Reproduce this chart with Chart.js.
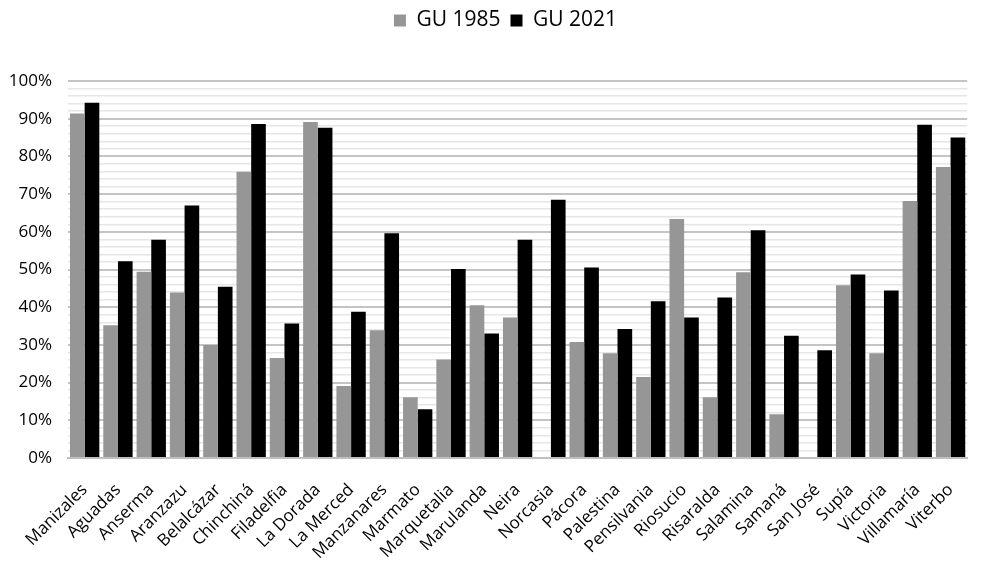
<!DOCTYPE html>
<html>
<head>
<meta charset="utf-8">
<script src="https://cdn.jsdelivr.net/npm/chart.js@4"></script>
<style>
html,body{margin:0;padding:0;background:#fff;}
#wrap{width:987px;height:572px;}
</style>
</head>
<body>
<div id="wrap"><canvas id="c" width="987" height="572"></canvas></div>
<script>
const categories = ["Manizales","Aguadas","Anserma","Aranzazu","Belalcázar","Chinchiná","Filadelfia","La Dorada","La Merced","Manzanares","Marmato","Marquetalia","Marulanda","Neira","Norcasia","Pácora","Palestina","Pensilvania","Riosucio","Risaralda","Salamina","Samaná","San José","Supía","Victoria","Villamaría","Viterbo"];
const gu1985 = [91.4,35.2,49.4,43.9,30.0,75.9,26.5,89.1,19.1,33.9,16.1,26.1,40.5,37.3,0,30.8,27.8,21.5,63.4,16.1,49.3,11.6,0,45.8,27.8,68.2,77.2];
const gu2021 = [94.2,52.2,57.9,67.0,45.4,88.6,35.7,87.6,38.8,59.6,12.9,50.1,33.0,57.9,68.5,50.5,34.2,41.6,37.3,42.6,60.4,32.4,28.6,48.7,44.4,88.4,85.0];
const seriesNames = ["GU 1985","GU 2021"];

const FONT = "'Open Sans', 'Noto Sans', sans-serif";
const legendMargin = {
  id: 'legendMargin',
  beforeInit(chart) {
    const lg = chart.legend;
    const origFit = lg.fit;
    lg.fit = function () {
      origFit.apply(this, arguments);
      this.height += 40;
    };
    const origDraw = lg.draw;
    lg.draw = function () {
      const ctx = this.ctx;
      ctx.save();
      ctx.translate(12, 0);
      origDraw.apply(this, arguments);
      ctx.restore();
    };
  }
};
new Chart(document.getElementById('c'), {
  type: 'bar',
  data: {
    labels: categories,
    datasets: [
      {label: seriesNames[0], data: gu1985, backgroundColor: '#969696', borderWidth: 0},
      {label: seriesNames[1], data: gu2021, backgroundColor: '#000000', borderWidth: 0}
    ]
  },
  options: {
    responsive: false,
    animation: false,
    devicePixelRatio: 1,
    layout: {padding: {left: 0, right: 0, top: 0, bottom: 0}},
    datasets: {bar: {barPercentage: 1.0, categoryPercentage: 0.88}},
    plugins: {
      tooltip: {enabled: false},
      legend: {
        position: 'top',
        labels: {
          font: {family: FONT, size: 21},
          color: '#000',
          boxWidth: 12, boxHeight: 12,
          padding: 10
        }
      }
    },
    scales: {
      x: {
        afterFit: (s) => { s.height = 114; },
        grid: {display: false, drawTicks: false},
        border: {display: true, color: '#bfbfbf', width: 2},
        ticks: {
          font: {family: FONT, size: 17},
          color: '#000',
          minRotation: 45, maxRotation: 45,
          autoSkip: false,
          padding: 22
        }
      },
      y: {
        min: 0, max: 100,
        afterFit: (s) => { s.width = 68; },
        border: {display: false},
        grid: {
          drawTicks: false,
          color: (ctx) => (ctx.tick && ctx.tick.value % 10 === 0) ? '#c4c4c4' : '#e6e6e6',
          lineWidth: (ctx) => (ctx.tick && ctx.tick.value % 10 === 0) ? 2 : 1.5
        },
        ticks: {
          stepSize: 2,
          autoSkip: false,
          padding: 16,
          font: {family: FONT, size: 17},
          color: '#000',
          callback: (v) => (v % 10 === 0) ? v + '%' : ''
        }
      }
    }
  },
  plugins: [legendMargin]
});
</script>
</body>
</html>
